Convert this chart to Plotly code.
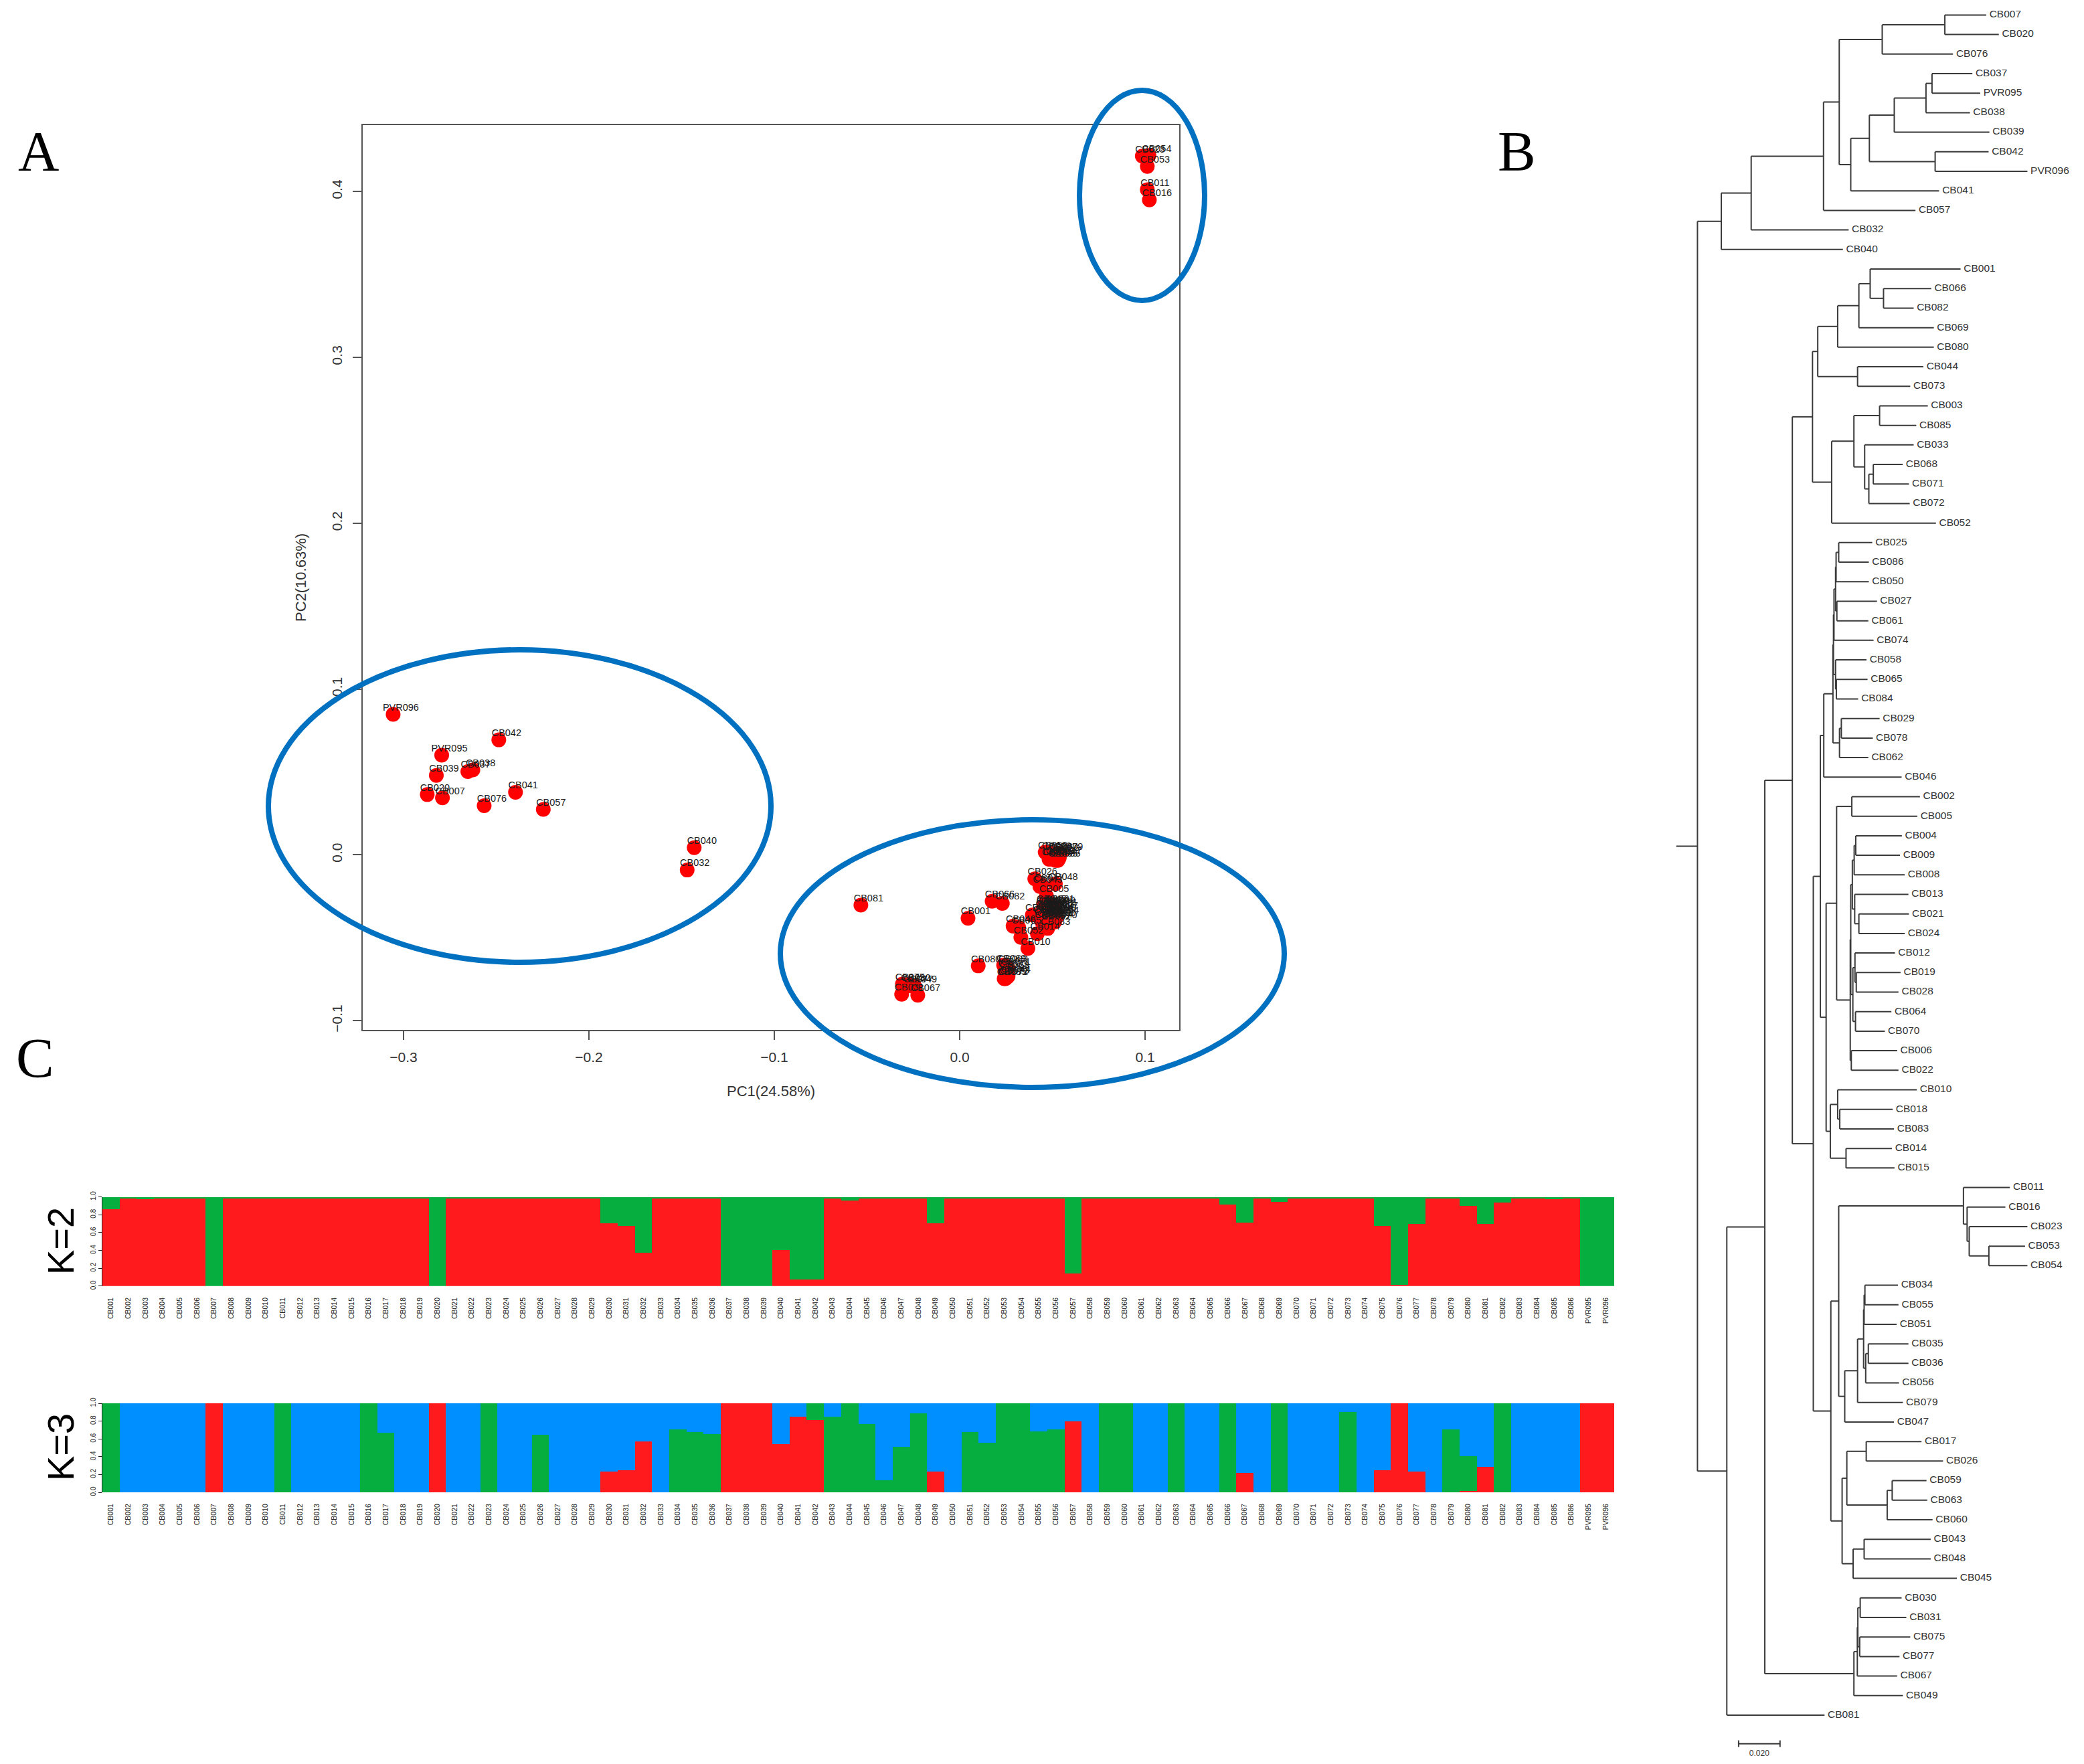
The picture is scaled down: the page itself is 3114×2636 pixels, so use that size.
import plotly.graph_objects as go

W, H = 3114, 2636

samples = [f"CB{i:03d}" for i in range(1, 87)] + ["PVR095", "PVR096"]

# ---- A: PCA scores (PC1, PC2)
pca_scores = {
 "PVR096": (-.3056, .0847), "CB042": (-.2486, .0693), "PVR095": (-.2794, .0601), "CB038": (-.2626, .0512),
 "CB037": (-.2653, .0502), "CB039": (-.2823, .0479), "CB020": (-.2872, .0363), "CB007": (-.2790, .0343),
 "CB076": (-.2565, .0296), "CB041": (-.2396, .0377), "CB057": (-.2246, .0274), "CB040": (-.1432, .0043),
 "CB032": (-.1470, -.0092), "CB023": (.0985, .4213), "CB054": (.1021, .4217), "CB053": (.1012, .4151),
 "CB011": (.1012, .4011), "CB016": (.1023, .3949), "CB081": (-.0533, -.0303), "CB001": (.0045, -.0383),
 "CB066": (.0175, -.0280), "CB082": (.0230, -.0293), "CB026": (.0405, -.0145), "CB048": (.0516, -.0175),
 "CB017": (.0440, -.0182), "CB043": (.0433, -.0191), "CB005": (.0468, -.0249), "CB059": (.0461, .0016),
 "CB063": (.0482, .0011), "CB060": (.0516, .0007), "CB055": (.0488, -.0027), "CB079": (.0544, .0007),
 "CB056": (.0523, .0000), "CB051": (.0502, -.0020), "CB035": (.0516, -.0034), "CB036": (.0530, -.0034),
 "CB034": (.0482, -.0027), "CB047": (.0537, -.0020), "CB080": (.0100, -.0670), "CB069": (.0237, -.0666),
 "CB003": (.0247, -.0672), "CB071": (.0261, -.0686), "CB033": (.0247, -.0700), "CB068": (.0254, -.0707),
 "CB072": (.0247, -.0747), "CB085": (.0240, -.0747), "CB073": (.0254, -.0740), "CB044": (.0261, -.0733),
 "CB075": (-.0309, -.0780), "CB030": (-.0278, -.0783), "CB077": (-.0265, -.0791), "CB049": (-.0244, -.0791),
 "CB031": (-.0313, -.0841), "CB067": (-.0226, -.0847), "CB052": (.0330, -.0498), "CB010": (.0368, -.0565),
 "CB083": (.0475, -.0444), "CB046": (.0288, -.0430), "CB065": (.0318, -.0438), "CB014": (.0419, -.0476),
 "CB018": (.0392, -.0363), "CB002": (.0462, -.0345), "CB004": (.0475, -.0325), "CB006": (.0488, -.0335),
 "CB008": (.0455, -.0355), "CB009": (.0502, -.0318), "CB012": (.0468, -.0372), "CB013": (.0495, -.0345),
 "CB015": (.0441, -.0385), "CB019": (.0508, -.0362), "CB021": (.0515, -.0328), "CB022": (.0482, -.0388),
 "CB024": (.0448, -.0338), "CB025": (.0492, -.0372), "CB027": (.0518, -.0348), "CB028": (.0458, -.0398),
 "CB029": (.0475, -.0355), "CB045": (.0454, -.0307), "CB050": (.0505, -.0395), "CB058": (.0435, -.0372),
 "CB061": (.0498, -.0308), "CB062": (.0478, -.0412), "CB064": (.0465, -.0318), "CB070": (.0512, -.0405),
 "CB074": (.0488, -.0402), "CB078": (.0444, -.0405), "CB084": (.0522, -.0378), "CB086": (.0452, -.0322),
}

# ---- C: admixture proportions, one value per sample
k2_red = [
 .863,.99,.975,.99,.99,.99,0,.99,.99,.99,.99,.99,.99,.99,.99,.99,.99,.99,.99,0,
 .99,.99,.99,.99,.99,.99,.99,.99,.99,.708,.68,.38,.99,.99,.99,.99,0,0,0,.41,
 .08,.08,.99,.96,.99,.99,.99,.99,.708,.99,.99,.99,.99,.99,.99,.99,.145,.99,.99,.99,
 .99,.99,.99,.99,.99,.92,.713,.99,.944,.99,.99,.99,.99,.99,.68,.015,.70,.99,.99,.90,
 .70,.94,.99,.99,.98,.99,0,0]
k2_green = [round(1 - v, 3) for v in k2_red]

k3_red = [
 0,0,0,0,0,0,1,0,0,0,0,0,0,0,0,0,0,0,0,1,
 0,0,0,0,0,0,0,0,0,.23,.247,.57,0,0,0,0,1,1,1,.543,
 .85,.81,0,0,0,0,0,0,.23,0,0,0,0,0,0,0,.80,0,0,0,
 0,0,0,0,0,0,.215,0,0,0,0,0,0,0,.247,1,.23,0,0,.015,
 .285,0,0,0,0,0,1,1]
k3_green = [
 1,0,0,0,0,0,0,0,0,0,1,0,0,0,0,1,.67,0,0,0,
 0,0,1,0,0,.645,0,0,0,0,0,0,0,.705,.677,.656,0,0,0,0,
 0,.19,.85,1,.77,.137,.513,.89,0,0,.677,.556,1,1,.685,.707,0,0,1,1,
 0,0,1,0,0,1,0,0,1,0,0,0,.905,0,0,0,0,0,.707,.391,
 0,1,0,0,0,0,0,0]
k3_blue = [round(1 - r - g, 3) for r, g in zip(k3_red, k3_green)]

# ---- B: neighbour-joining tree, (depth, children...) or (depth, "leaf"); 158 depth units = 0.020
tree = (93,
 (184,
  (298,
   (574,
    (634,
     (798, (1037, (1195, "CB007"), (1243, "CB020")), (1068, "CB076")),
     (678,
      (749,
       (844, (965, (988, (1142, "CB037"), (1172, "PVR095")), (1133, "CB038")), (1207, "CB039")),
       (1000, (1204, "CB042"), (1352, "PVR096"))),
      (1015, "CB041"))),
    (925, "CB057")),
   (670, "CB032")),
  (648, "CB040")),
 (205,
  (350,
   (455,
    (532,
     (552,
      (628,
       (709, (752, (1097, "CB001"), (803, (985, "CB066"), (918, "CB082"))), (995, "CB069")),
       (995, "CB080")),
      (704, (955, "CB044"), (905, "CB073"))),
     (605,
      (690,
       (788, (972, "CB003"), (928, "CB085")),
       (731, (918, "CB033"), (747, (764, (876, "CB068"), (900, "CB071")), (903, "CB072")))),
      (1003, "CB052"))),
    (535,
     (562,
      (575,
       (610,
        (612,
         (614,
          (620,
           (622, (632, (760, "CB025"), (747, "CB086")), (747, "CB050")),
           (625, (778, "CB027"), (745, "CB061"))),
          (765, "CB074")),
         (620, (738, "CB058"), (623, (742, "CB065"), (706, "CB084")))),
        (635, (642, (788, "CB029"), (762, "CB078")), (745, "CB062"))),
       (872, "CB046")),
      (584,
       (624,
        (682, (942, "CB002"), (932, "CB005")),
        (676,
         (678,
          (684,
           (691, (697, (873, "CB004"), (866, "CB009")), (884, "CB008")),
           (693, (898, "CB013"), (709, (900, "CB021"), (884, "CB024")))),
          (686,
           (694, (847, "CB012"), (699, (868, "CB019"), (860, "CB028"))),
           (696, (833, "CB064"), (808, "CB070")))),
         (680, (855, "CB006"), (860, "CB022")))),
       (600,
        (628, (930, "CB010"), (636, (838, "CB018"), (843, "CB083"))),
        (660, (835, "CB014"), (845, "CB015"))))),
     (602,
      (632,
       (1108,
        (1285, "CB011"),
        (1122, (1268, "CB016"), (1130, (1352, "CB023"), (1205, (1343, "CB053"), (1352, "CB054"))))),
       (655,
        (704,
         (727,
          (729, (732, (858, "CB034"), (860, "CB055")), (853, "CB051")),
          (735, (745, (898, "CB035"), (898, "CB036")), (862, "CB056"))),
         (877, "CB079")),
        (843, "CB047"))),
      (645,
       (663,
        (737, (948, "CB017"), (1030, "CB026")),
        (817, (836, (967, "CB059"), (970, "CB063")), (990, "CB060"))),
       (687, (729, (983, "CB043"), (983, "CB048")), (1083, "CB045")))))),
   (690,
    (703,
     (705, (714, (872, "CB030"), (890, "CB031")), (712, (905, "CB075"), (864, "CB077"))),
     (855, "CB067")),
    (877, "CB049"))),
  (578, "CB081")))
root_stem_start = 12
scale_bar = (250, 408)

# ---- styling
RED, GREEN, BLUE = "#FF1A1D", "#05AE3F", "#008FFF"
ELLIPSE = "#0070C0"
FONT = "Liberation Sans"


def pxx(v):
    return v / W


def pxy(v):
    return 1 - v / H


fig = go.Figure()

# ---- panel A
names = list(pca_scores)
pc1 = [pca_scores[n][0] for n in names]
pc2 = [pca_scores[n][1] for n in names]
fig.add_trace(go.Scatter(x=pc1, y=pc2, mode="markers", xaxis="x", yaxis="y",
                         marker=dict(color="#FF0000", size=22, line=dict(width=0)), showlegend=False))
fig.add_trace(go.Scatter(x=[v + .00415 for v in pc1], y=[v + .0038 for v in pc2], mode="text", xaxis="x", yaxis="y",
                         text=names, textposition="middle center", cliponaxis=False,
                         textfont=dict(family=FONT, size=14.5, color="#1a1a1a"), showlegend=False))

# ---- panel C
for vals, col in ((k2_red, RED), (k2_green, GREEN)):
    fig.add_trace(go.Bar(x=samples, y=vals, xaxis="x2", yaxis="y2", marker=dict(color=col, line=dict(width=0)),
                         showlegend=False))
for vals, col in ((k3_red, RED), (k3_green, GREEN), (k3_blue, BLUE)):
    fig.add_trace(go.Bar(x=samples, y=vals, xaxis="x3", yaxis="y3", marker=dict(color=col, line=dict(width=0)),
                         showlegend=False))

# ---- panel B
lx, ly, ln, sx, sy = [], [], [], [], []
counter = [0]


def walk(node):
    depth = node[0]
    if isinstance(node[1], str):
        y = counter[0]
        counter[0] += 1
        lx.append(depth)
        ly.append(y)
        ln.append(node[1])
        return depth, y
    kids = [walk(c) for c in node[1:]]
    ys = [k[1] for k in kids]
    y = (ys[0] + ys[-1]) / 2
    sx.extend([depth, depth, None])
    sy.extend([ys[0], ys[-1], None])
    for kd, ky in kids:
        sx.extend([depth, kd, None])
        sy.extend([ky, ky, None])
    return depth, y


root_depth, root_y = walk(tree)
assert len(ln) == 88
sx.extend([root_stem_start, root_depth, None])
sy.extend([root_y, root_y, None])
fig.add_trace(go.Scatter(x=sx, y=sy, mode="lines", xaxis="x4", yaxis="y4",
                         line=dict(color="#3a3a3a", width=2), hoverinfo="skip", showlegend=False))
fig.add_trace(go.Scatter(x=[v + 12 for v in lx], y=ly, mode="text", xaxis="x4", yaxis="y4", text=ln,
                         textposition="middle right", cliponaxis=False,
                         textfont=dict(family=FONT, size=15.5, color="#333333"), showlegend=False))
bar_y = 88.46
fig.add_trace(go.Scatter(
    x=[scale_bar[0], scale_bar[1], None, scale_bar[0], scale_bar[0], None, scale_bar[1], scale_bar[1]],
    y=[bar_y, bar_y, None, bar_y - .17, bar_y + .17, None, bar_y - .17, bar_y + .17],
    mode="lines", xaxis="x4", yaxis="y4", line=dict(color="#3a3a3a", width=2), showlegend=False))
fig.add_trace(go.Scatter(x=[sum(scale_bar) / 2], y=[88.97], mode="text", text=["0.020"], xaxis="x4", yaxis="y4",
                         textposition="middle center", cliponaxis=False,
                         textfont=dict(family=FONT, size=12, color="#333333"), showlegend=False))

# ---- axes
rline = dict(showline=True, linecolor="#555555", linewidth=2, mirror=True, zeroline=False, showgrid=False,
             ticks="outside", ticklen=13, tickwidth=2, tickcolor="#555555", automargin=False,
             ticklabelstandoff=8, tickfont=dict(family=FONT, size=21, color="#333333"))
layout_axes = dict(
    xaxis=dict(domain=[pxx(542), pxx(1762)], range=[-.322, .1184], tickvals=[-.3, -.2, -.1, 0, .1],
               tickformat=".1f", anchor="y",
               title=dict(text="PC1(24.58%)", font=dict(family=FONT, size=22, color="#333333"), standoff=32), **rline),
    yaxis=dict(domain=[pxy(1539), pxy(187)], range=[-.1056, .44], tickvals=[-.1, 0, .1, .2, .3, .4],
               tickformat=".1f", tickangle=-90, anchor="x",
               title=dict(text="PC2(10.63%)", font=dict(family=FONT, size=22, color="#333333"), standoff=28), **rline),
    xaxis4=dict(domain=[pxx(2500), 1], range=[0, 1568], visible=False, anchor="y4"),
    yaxis4=dict(domain=[0, 1], range=[89.5, -.767], visible=False, anchor="x4"),
)
for idx, (top, bot) in {2: (1788.6, 1921.8), 3: (2097, 2230)}.items():
    layout_axes[f"xaxis{idx}"] = dict(
        domain=[pxx(153), pxx(2412)], range=[-.5, 87.5], type="category", anchor=f"y{idx}",
        tickmode="array", tickvals=samples, ticktext=samples, tickangle=-90, ticks="outside", ticklen=12,
        tickcolor="rgba(0,0,0,0)", showline=False, showgrid=False, zeroline=False, automargin=False,
        tickfont=dict(family=FONT, size=10.5, color="#222222"))
    layout_axes[f"yaxis{idx}"] = dict(
        domain=[pxy(bot), pxy(top)], range=[0, 1], anchor=f"x{idx}", tickvals=[0, .2, .4, .6, .8, 1],
        tickformat=".1f", tickangle=-90, ticks="outside", ticklen=5, tickwidth=1, tickcolor="#222222",
        showline=True, linecolor="#222222", linewidth=1, showgrid=False, zeroline=False, automargin=False,
        tickfont=dict(family=FONT, size=10, color="#222222"))

# ---- ellipses
ellipses = [(1613, 1800, 135, 449), (401, 1152, 971, 1438), (1166, 1919, 1225, 1625)]
shapes = [dict(type="circle", xref="paper", yref="paper", x0=pxx(a), x1=pxx(b), y0=pxy(d), y1=pxy(c),
               line=dict(color=ELLIPSE, width=8), layer="above") for a, b, c, d in ellipses]

# ---- panel letters
ann = []
for t, x, y in (("A", 57, 226), ("B", 2266, 226), ("C", 52, 1581)):
    ann.append(dict(text=t, x=pxx(x), y=pxy(y), xref="paper", yref="paper", showarrow=False, xanchor="center",
                    yanchor="middle", font=dict(family="Liberation Serif", size=85, color="#000000")))
for t, y in (("K=2", 1855), ("K=3", 2163)):
    ann.append(dict(text=t, x=pxx(90), y=pxy(y), xref="paper", yref="paper", showarrow=False, xanchor="center",
                    yanchor="middle", textangle=-90, font=dict(family=FONT, size=56, color="#000000")))

fig.update_layout(width=W, height=H, autosize=False, margin=dict(l=0, r=0, t=0, b=0, pad=0),
                  paper_bgcolor="white", plot_bgcolor="white", barmode="stack", bargap=0, showlegend=False,
                  shapes=shapes, annotations=ann, **layout_axes)

fig.write_html("out.html", config=dict(displayModeBar=False),
               post_script="document.body.style.margin='0';document.documentElement.style.overflow='hidden';")
